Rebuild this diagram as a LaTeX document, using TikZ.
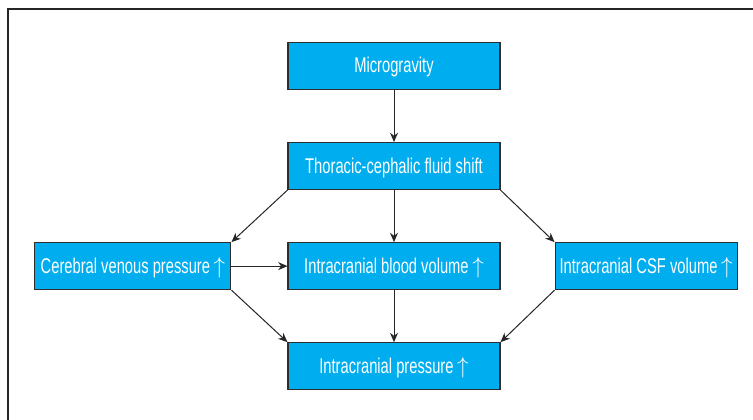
\documentclass[tikz,border=0pt]{standalone}
\usepackage{fontspec}
\setmainfont[FakeStretch=0.69]{Liberation Sans}
\usetikzlibrary{positioning,arrows.meta}
\definecolor{boxblue}{RGB}{0,174,239}
\definecolor{boxline}{RGB}{45,45,45}
\newcommand{\rises}{\,$\uparrow$}

\begin{document}
\begin{tikzpicture}[node distance=39pt, >={Stealth[length=7pt,width=6pt]},
    box/.style={rectangle, draw=boxline, line width=0.8pt, fill=boxblue, text=white, align=center, minimum height=35.25pt, minimum width=159pt, inner sep=2pt, text height=12pt, text depth=1.5pt, font=\fontsize{16}{18}\selectfont},
    link/.style={->, line width=0.75pt, draw=black!85}]
            \useasboundingbox (0,0) rectangle (564.75pt,-315pt);
            \draw[line width=0.9pt, black!85] (6pt,-315pt) -- (6pt,-6.75pt) -- (564.75pt,-6.75pt);

            \node[box] (micro) at (295.5pt,-49.5pt) {Microgravity};
            \node[box, below=of micro] (shift) {Thoracic-cephalic fluid shift};
            \node[box, below=of shift] (blood) {Intracranial blood volume\rises};
            \node[box, minimum width=147pt, left=42pt of blood] (venous) {Cerebral venous pressure\rises};
            \node[box, minimum width=136.5pt, right=40.5pt of blood] (csf) {Intracranial CSF volume\rises};
            \node[box, below=of blood] (icp) {Intracranial pressure\rises};

            \draw[link] (micro) -- (shift);
            \draw[link] (shift) -- (blood);
            \draw[link] (shift.south west) -- (venous.north east);
            \draw[link] (shift.south east) -- (csf.north west);
            \draw[link] (venous) -- (blood);
            \draw[link] (blood) -- (icp);
            \draw[link] (venous.south east) -- (icp.north west);
            \draw[link] (csf.south west) -- (icp.north east);
        \end{tikzpicture}
\end{document}
